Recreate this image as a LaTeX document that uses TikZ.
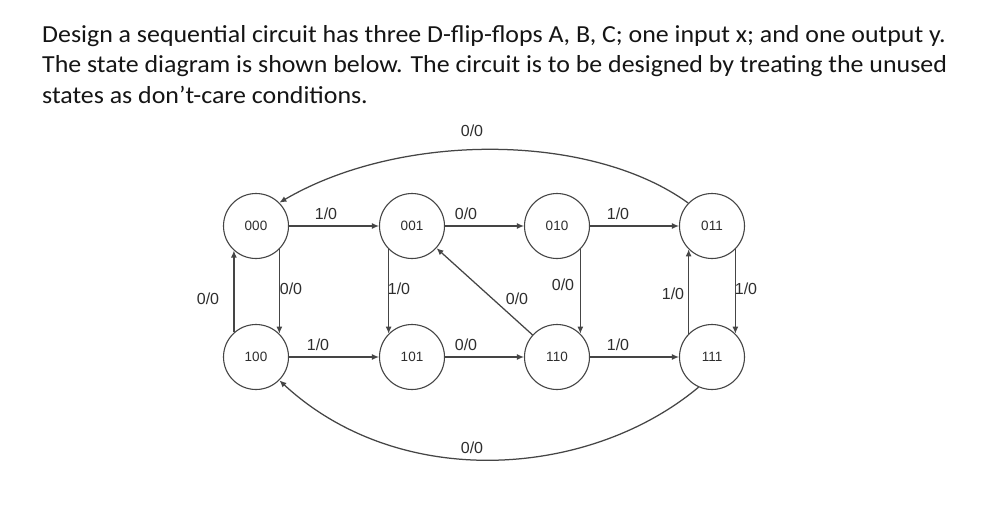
\documentclass[tikz,border=0pt]{standalone}
\usepackage{fontspec}
\setmainfont{Carlito}
\setsansfont{Liberation Sans}
\usetikzlibrary{arrows.meta}
\definecolor{ln}{HTML}{454545}
\definecolor{tx}{HTML}{2E2E2E}
\definecolor{ttl}{HTML}{151515}
\newcommand{\ttlx}[1]{\scalebox{1.057}[1]{#1}}
\begin{document}
\begin{tikzpicture}[x=1pt,y=-1pt,
  state/.style={circle,draw=ln,line width=1.1pt,minimum size=65pt,inner sep=0pt,
    font=\sffamily\fontsize{13.5}{16}\selectfont,text=tx},
  lbl/.style={font=\sffamily\fontsize{16}{18}\selectfont,text=tx,inner sep=0pt},
  conn/.style={draw=ln,line width=1.25pt,-{Latex[length=7pt,width=6pt]}},
  titleline/.style={anchor=base west,inner sep=0pt,text=ttl,font=\rmfamily\fontsize{24.5}{28}\selectfont}]
\useasboundingbox[fill=white] (0,0) rectangle (1003,530);
% title
\node[titleline] (t1) at (42,42) {\ttlx{Design a sequential circuit has three D-flip-flops A, B, C; one input x; and one output y.}};
\node[titleline] (t2) at (42,72) {\ttlx{The state diagram is shown below. The circuit is to be designed by treating the unused}};
\node[titleline] (t3) at (42,103) {\ttlx{states as don’t-care conditions.}};
% states
\node[state] (s000) at (256,226) {000};
\node[state] (s001) at (412,226) {001};
\node[state] (s010) at (557,226) {010};
\node[state] (s011) at (712,226) {011};
\node[state] (s100) at (256,357) {100};
\node[state] (s101) at (412,357) {101};
\node[state] (s110) at (557,357) {110};
\node[state] (s111) at (712,357) {111};
% horizontal
\draw[conn] (s000) -- (s001);
\draw[conn] (s001) -- (s010);
\draw[conn] (s010) -- (s011);
\draw[conn] (s100) -- (s101);
\draw[conn] (s101) -- (s110);
\draw[conn] (s110) -- (s111);
% vertical
\draw[conn] (s100.132) -- (s000.228);
\draw[conn] (s000.-45) -- (s100.45);
\draw[conn] (s001.225) -- (s101.135);
\draw[conn] (s010.-45) -- (s110.45);
\draw[conn] (s111.135) -- (s011.225);
\draw[conn] (s011.-45) -- (s111.45);
% diagonal
\draw[conn] (s110) -- (s001);
% curves
\draw[conn] (s011.136) .. controls (590,132) and (400,132) .. (s000.45);
\draw[conn] (s111.-114) .. controls (590,478) and (400,492) .. (s100.-45);
% labels
\node[lbl] (l1) at (326,214) {1/0};
\node[lbl] (l2) at (466,214) {0/0};
\node[lbl] (l3) at (618,214) {1/0};
\node[lbl] (l4) at (318,345) {1/0};
\node[lbl] (l5) at (466,345) {0/0};
\node[lbl] (l6) at (618,345) {1/0};
\node[lbl] (l7) at (208,299) {0/0};
\node[lbl] (l8) at (291,289) {0/0};
\node[lbl] (l9) at (399,289) {1/0};
\node[lbl] (l10) at (517,299) {0/0};
\node[lbl] (l11) at (563,285) {0/0};
\node[lbl] (l12) at (673,294) {1/0};
\node[lbl] (l13) at (746,289) {1/0};
\node[lbl] (l14) at (472,131) {0/0};
\node[lbl] (l15) at (472,448) {0/0};
\end{tikzpicture}
\end{document}
